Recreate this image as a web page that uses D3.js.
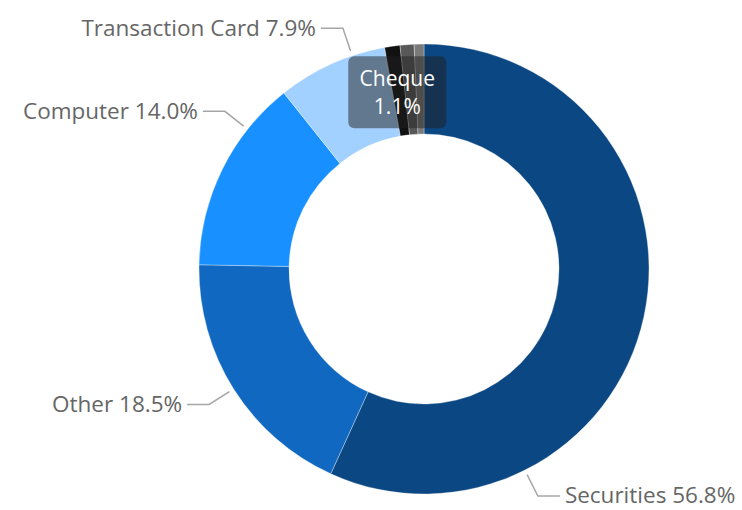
<!DOCTYPE html>
<html>
<head>
<meta charset="utf-8">
<script src="https://cdn.jsdelivr.net/npm/d3@7/dist/d3.min.js"></script>
<style>
  html, body { margin: 0; padding: 0; background: #fff; }
  svg { display: block; }
  text { font-family: "Segoe UI", "Open Sans", "Noto Sans", sans-serif; }
</style>
</head>
<body>
<svg id="chart" width="742" height="510"></svg>
<script>
// Share of payments by method (percent)
const categories = ["Securities", "Other", "Computer", "Transaction Card", "Cheque", "Direct Debit", "Cash"];
const shares     = [56.8, 18.5, 14.0, 7.9, 1.1, 1.0, 0.7];
const colors     = ["#0b4782", "#1068c1", "#1890ff", "#a3d1ff", "#111111", "#585858", "#7a7a7a"];
const labelled   = ["Securities", "Other", "Computer", "Transaction Card"];
const highlighted = "Cheque";

// Where along each labelled slice the leader line is attached (0 = start, 1 = end)
const labelAnchor = { "Securities": 0.75, "Other": 0.5, "Computer": 0.74, "Transaction Card": 0.70 };

const W = 742, H = 510;
const cx = 424, cy = 269;
const rOuter = 225, rInner = 135;
const fontSize = 22.5;

const svg = d3.select("#chart");
const g = svg.append("g").attr("transform", `translate(${cx},${cy})`);

const data = categories.map((c, i) => ({ name: c, value: shares[i], color: colors[i] }));

const pie = d3.pie().sort(null).value(d => d.value).startAngle(0).endAngle(2 * Math.PI);
const arcs = pie(data);
const arc = d3.arc().innerRadius(rInner).outerRadius(rOuter);

g.selectAll("path.slice")
  .data(arcs)
  .join("path")
  .attr("class", "slice")
  .attr("d", arc)
  .attr("fill", d => d.data.color)
  .attr("stroke", "#ffffff")
  .attr("stroke-opacity", 0.55)
  .attr("stroke-width", 0.6);

// Outside labels with elbow leader lines
const polar = (a, r) => [r * Math.sin(a), -r * Math.cos(a)];
const fmt = d3.format(".1f");

arcs.filter(d => labelled.includes(d.data.name)).forEach(d => {
  const t = labelAnchor[d.data.name];
  const a = d.startAngle + (d.endAngle - d.startAngle) * t;
  const p0 = polar(a, rOuter + 5);
  const p1 = polar(a, rOuter + 29);
  const dir = Math.sin(a) >= 0 ? 1 : -1;
  const p2 = [p1[0] + dir * 22, p1[1]];
  g.append("polyline")
    .attr("points", [p0, p1, p2].map(p => p.join(",")).join(" "))
    .attr("fill", "none")
    .attr("stroke", "#a6a6a6")
    .attr("stroke-width", 1.5);
  g.append("text")
    .attr("x", p2[0] + dir * 5)
    .attr("y", p2[1])
    .attr("dy", "0.33em")
    .attr("text-anchor", dir > 0 ? "start" : "end")
    .attr("fill", "#666666")
    .attr("font-size", fontSize)
    .text(`${d.data.name} ${fmt(d.data.value)}%`);
});

// Tooltip on the highlighted slice
const hi = arcs.find(d => d.data.name === highlighted);
const mid = (hi.startAngle + hi.endAngle) / 2;
const anchor = polar(mid, rOuter);
const tipW = 98, tipH = 72;
const tipX = anchor[0] + 5 - tipW / 2;
const tipY = anchor[1] + 10;
const tip = g.append("g");
tip.append("rect")
  .attr("x", tipX).attr("y", tipY)
  .attr("width", tipW).attr("height", tipH)
  .attr("rx", 6)
  .attr("fill", "rgba(32,32,32,0.5)");
tip.append("text")
  .attr("x", tipX + tipW / 2).attr("y", tipY + 22)
  .attr("dy", "0.35em")
  .attr("text-anchor", "middle")
  .attr("fill", "#ffffff")
  .attr("font-size", 21)
  .text(hi.data.name);
tip.append("text")
  .attr("x", tipX + tipW / 2).attr("y", tipY + 50)
  .attr("dy", "0.35em")
  .attr("text-anchor", "middle")
  .attr("fill", "#ffffff")
  .attr("font-size", 21)
  .text(`${fmt(hi.data.value)}%`);
</script>
</body>
</html>
